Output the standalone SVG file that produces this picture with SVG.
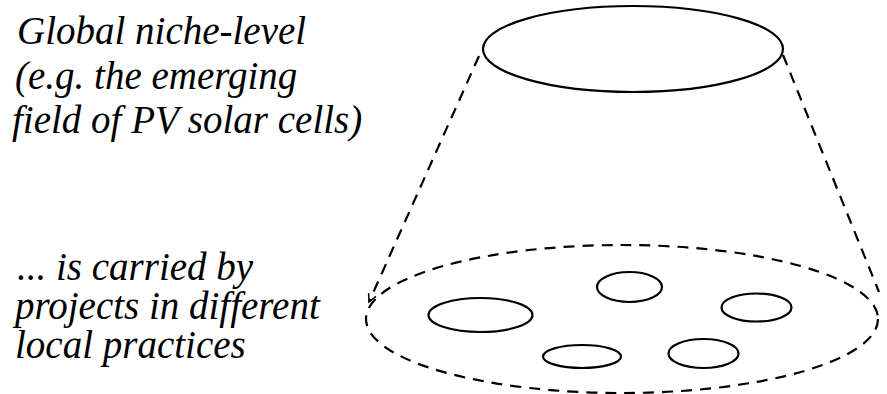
<svg xmlns="http://www.w3.org/2000/svg" width="887" height="394" viewBox="0 0 887 394">
  <style>
    .solid { fill: none; stroke: #000; stroke-width: 2.2; }
    .dash { fill: none; stroke: #000; stroke-width: 2.2; stroke-dasharray: 11 8; }
  </style>
  <rect width="887" height="394" fill="#fff"/>
  <g id="label-global" font-size="39">
    <text x="17" y="44" font-family="Liberation Serif" font-style="italic">Global niche-level</text>
    <text x="15" y="89" font-family="Liberation Serif" font-style="italic">(e.g. the emerging</text>
    <text x="12" y="133" font-family="Liberation Serif" font-style="italic">field of PV solar cells)</text>
  </g>
  <g id="label-local" font-size="39">
    <text x="17" y="280" font-family="Liberation Serif" font-style="italic">... is carried by</text>
    <text x="15" y="319" font-family="Liberation Serif" font-style="italic">projects in different</text>
    <text x="15" y="358" font-family="Liberation Serif" font-style="italic">local practices</text>
  </g>
  <g id="global-niche"><ellipse class="solid" cx="633" cy="49" rx="150" ry="43"/></g>
  <g id="local-level"><ellipse class="dash" cx="622" cy="319" rx="256" ry="74"/></g>
  <g id="project-1"><ellipse class="solid" cx="480.5" cy="315" rx="52" ry="17"/></g>
  <g id="project-2"><ellipse class="solid" cx="629.5" cy="287" rx="32.5" ry="15"/></g>
  <g id="project-3"><ellipse class="solid" cx="756.5" cy="307.5" rx="35" ry="14"/></g>
  <g id="project-4"><ellipse class="solid" cx="582" cy="356.5" rx="39" ry="11.5"/></g>
  <g id="project-5"><ellipse class="solid" cx="703.5" cy="353.5" rx="35" ry="14.5"/></g>
  <g id="connectors">
    <line class="dash" x1="479" y1="56" x2="369" y2="302"/>
    <path d="M375.9,296.3 L369,302 L368.6,293.1" fill="none" stroke="#000" stroke-width="1.5"/>
    <line class="dash" x1="783" y1="55" x2="879" y2="292"/>
  </g>
</svg>
